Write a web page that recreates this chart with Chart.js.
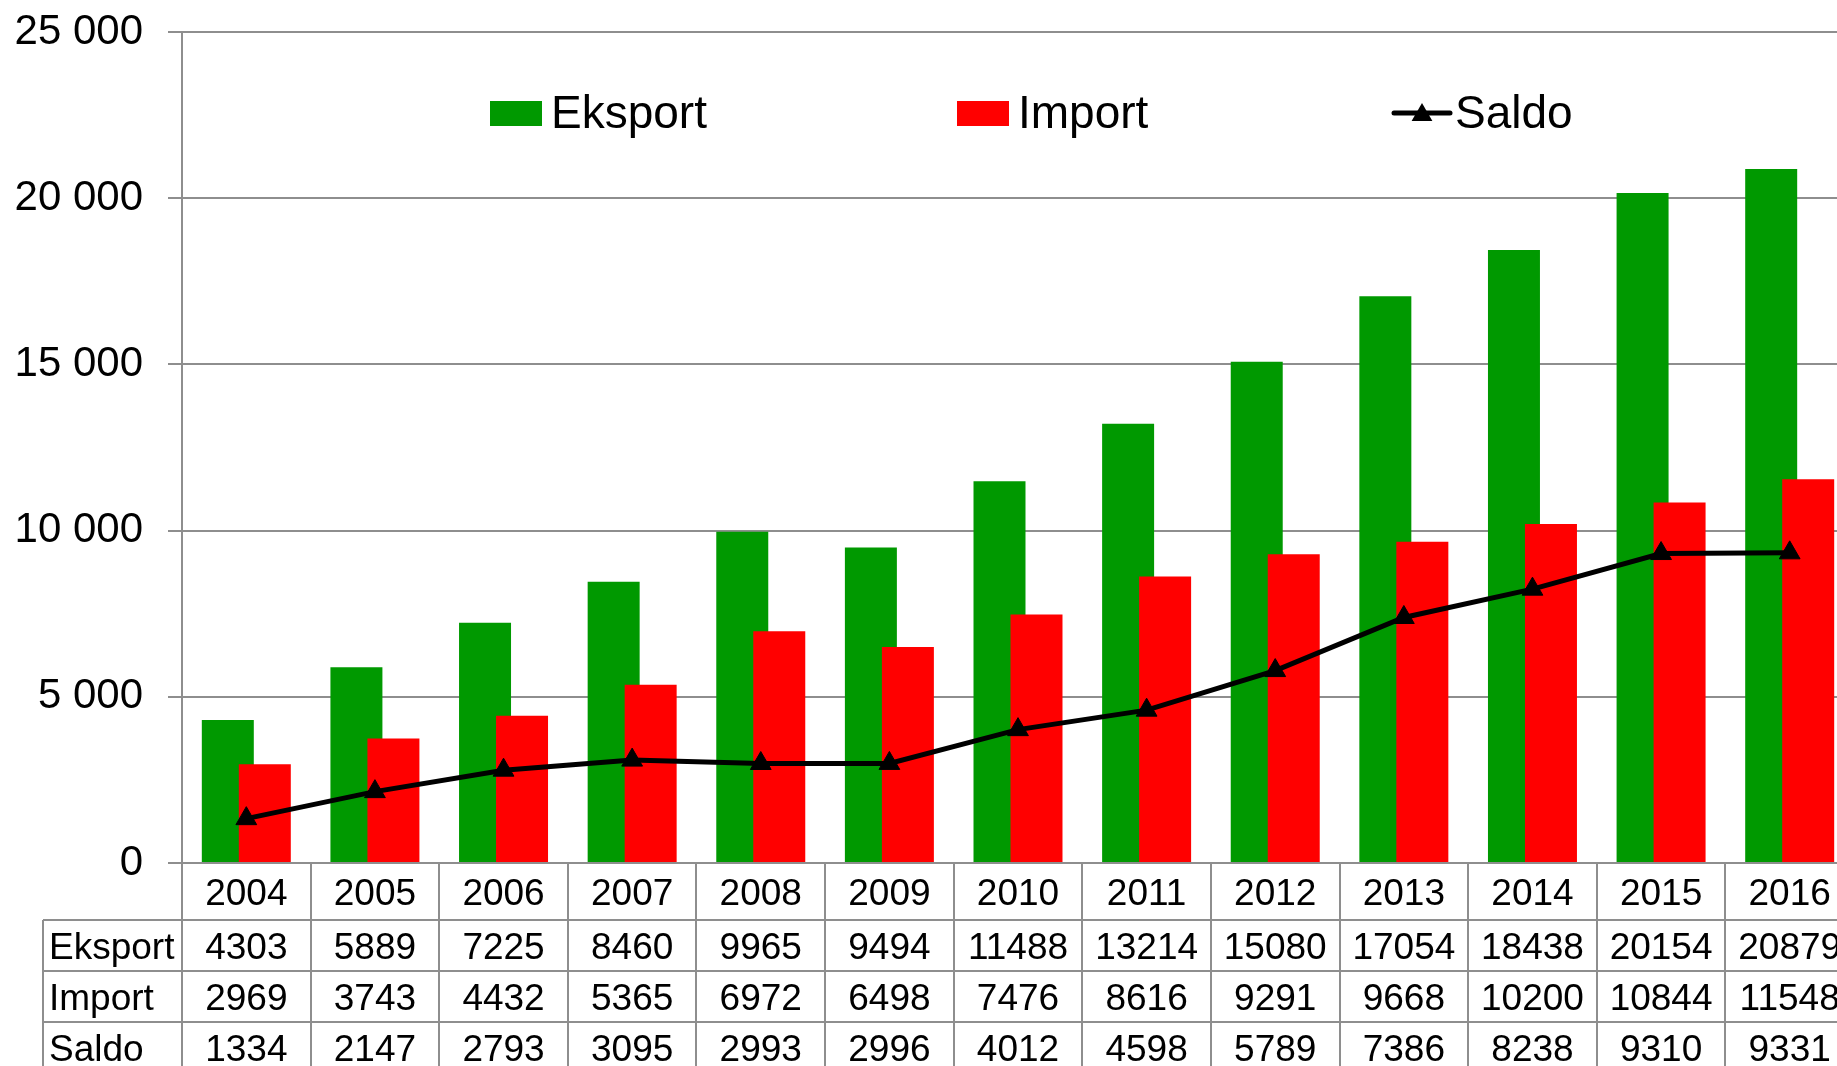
<!DOCTYPE html>
<html>
<head>
<meta charset="utf-8">
<script src="https://cdn.jsdelivr.net/npm/chart.js@4"></script>
<style>
html,body{margin:0;padding:0;overflow:hidden;background:#fff;width:1837px;height:1066px}
#wrap{position:absolute;left:0;top:0;width:1860px;height:1066px}
</style>
</head>
<body>
<div id="wrap"><canvas id="c" width="1860" height="1066"></canvas></div>
<script>
// ---- data ----
const years = ['2004','2005','2006','2007','2008','2009','2010','2011','2012','2013','2014','2015','2016'];
const eksport = [4303, 5889, 7225, 8460, 9965, 9494, 11488, 13214, 15080, 17054, 18438, 20154, 20879];
const importVals = [2969, 3743, 4432, 5365, 6972, 6498, 7476, 8616, 9291, 9668, 10200, 10844, 11548];
const saldo = [1334, 2147, 2793, 3095, 2993, 2996, 4012, 4598, 5789, 7386, 8238, 9310, 9331];
const seriesNames = ['Eksport', 'Import', 'Saldo'];
const yTicks = [0, 5000, 10000, 15000, 20000, 25000];

// ---- styles ----
const FONT = "'Liberation Sans', Arial, sans-serif";
const gridColor = '#8e8e8e';
const green = '#009900';
const red = '#ff0000';
const black = '#000000';

const fmt = v => String(v).replace(/\B(?=(\d{3})+(?!\d))/g, ' ');

function triangle(ctx, x, y, r) {
  ctx.beginPath();
  ctx.moveTo(x, y - r);
  ctx.lineTo(x + r * Math.sqrt(3) / 2, y + r / 2);
  ctx.lineTo(x - r * Math.sqrt(3) / 2, y + r / 2);
  ctx.closePath();
  ctx.fill();
}

// draw the first bar series underneath the second one
const barLayering = {
  id: 'barLayering',
  beforeDatasetsDraw(chart) {
    const meta = chart.getDatasetMeta(0);
    if (meta.visible !== false) meta.controller.draw();
  },
  beforeDatasetDraw(chart, args) {
    if (args.index === 0) return false;
  }
};

const legendPlugin = {
  id: 'customLegend',
  afterDraw(chart) {
    const ctx = chart.ctx;
    const ds = chart.data.datasets;
    const items = [
      {x: 490, type: 'box', d: ds[0]},
      {x: 957, type: 'box', d: ds[1]},
      {x: 1394, type: 'line', d: ds[2]}
    ];
    ctx.save();
    ctx.font = '46px ' + FONT;
    ctx.textBaseline = 'alphabetic';
    ctx.textAlign = 'left';
    items.forEach(it => {
      if (it.type === 'box') {
        ctx.fillStyle = it.d.backgroundColor;
        ctx.fillRect(it.x, 101, 52, 25);
        ctx.fillStyle = black;
        ctx.fillText(it.d.label, it.x + 61, 128);
      } else {
        ctx.strokeStyle = it.d.borderColor;
        ctx.lineWidth = 5;
        ctx.lineCap = 'round';
        ctx.beginPath();
        ctx.moveTo(it.x, 113);
        ctx.lineTo(it.x + 56, 113);
        ctx.stroke();
        ctx.fillStyle = it.d.borderColor;
        triangle(ctx, it.x + 28, 115, 12);
        ctx.fillStyle = black;
        ctx.fillText(it.d.label, it.x + 61, 128);
      }
    });
    ctx.restore();
  }
};

const tablePlugin = {
  id: 'dataTable',
  afterDraw(chart) {
    const {ctx, chartArea: ca, scales: {x}} = chart;
    const n = years.length;
    const half = (x.getPixelForValue(1) - x.getPixelForValue(0)) / 2;
    const headerH = 57, rowH = 51, labelLeft = 43;
    const top = ca.bottom;
    const rowsTop = top + headerH;
    const rows = [[seriesNames[0], eksport], [seriesNames[1], importVals], [seriesNames[2], saldo]];
    const bottom = rowsTop + rows.length * rowH;
    const rightEdge = x.getPixelForValue(n - 1) + half;
    ctx.save();
    ctx.strokeStyle = gridColor;
    ctx.lineWidth = 2;
    ctx.beginPath();
    for (let i = 0; i <= n; i++) {
      const xx = Math.round(i < n ? x.getPixelForValue(i) - half : rightEdge);
      ctx.moveTo(xx, top);
      ctx.lineTo(xx, bottom);
    }
    ctx.moveTo(labelLeft, rowsTop);
    ctx.lineTo(labelLeft, bottom);
    for (let r = 0; r <= rows.length; r++) {
      const yy = rowsTop + r * rowH;
      ctx.moveTo(labelLeft, yy);
      ctx.lineTo(rightEdge, yy);
    }
    ctx.stroke();

    const fs = 37;
    const cap = fs * 0.716 / 2;
    ctx.fillStyle = black;
    ctx.font = fs + 'px ' + FONT;
    ctx.textBaseline = 'alphabetic';
    ctx.textAlign = 'center';
    years.forEach((yr, i) => ctx.fillText(yr, x.getPixelForValue(i), top + headerH / 2 + cap));
    rows.forEach(([name, vals], r) => {
      const cy = rowsTop + r * rowH + rowH / 2 + cap;
      ctx.textAlign = 'left';
      ctx.fillText(name, labelLeft + 6, cy);
      ctx.textAlign = 'center';
      vals.forEach((v, i) => ctx.fillText(String(v), x.getPixelForValue(i), cy));
    });
    ctx.restore();
  }
};

new Chart(document.getElementById('c'), {
  data: {
    labels: years,
    datasets: [
      {
        type: 'bar', label: seriesNames[0], data: eksport,
        backgroundColor: green, borderWidth: 0,
        categoryPercentage: 0.5754, barPercentage: 1.405
      },
      {
        type: 'bar', label: seriesNames[1], data: importVals,
        backgroundColor: red, borderWidth: 0,
        categoryPercentage: 0.5754, barPercentage: 1.405
      },
      {
        type: 'line', label: seriesNames[2], data: saldo, order: -1,
        borderColor: black, backgroundColor: black, borderWidth: 5, tension: 0,
        pointStyle: 'triangle', pointRadius: 12, pointBackgroundColor: black,
        pointBorderColor: black, pointBorderWidth: 1, fill: false
      }
    ]
  },
  options: {
    responsive: false,
    animation: false,
    layout: {autoPadding: false, padding: {top: 32, right: 6, bottom: 203, left: 0}},
    plugins: {legend: {display: false}, tooltip: {enabled: false}},
    scales: {
      x: {
        display: false, offset: true,
        afterFit: s => { s.paddingLeft = 0; s.paddingRight = 0; s.paddingTop = 0; s.paddingBottom = 0; }
      },
      y: {
        min: 0, max: 25000,
        afterBuildTicks: s => { s.ticks = yTicks.map(v => ({value: v})); },
        afterFit: s => { s.width = 182; s.paddingTop = 0; s.paddingBottom = 0; s.paddingLeft = 0; s.paddingRight = 0; },
        grid: {color: gridColor, lineWidth: 2, tickLength: 14, drawTicks: true},
        border: {display: true, color: gridColor, width: 2},
        ticks: {padding: 25, color: black, font: {size: 42, family: FONT}, callback: v => fmt(v)}
      }
    }
  },
  plugins: [barLayering, legendPlugin, tablePlugin]
});
</script>
</body>
</html>
